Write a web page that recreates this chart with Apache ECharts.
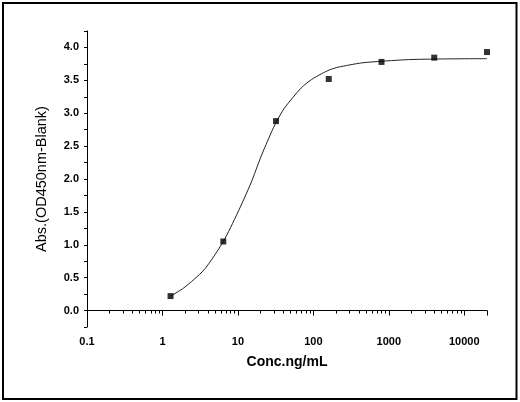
<!DOCTYPE html>
<html>
<head>
<meta charset="utf-8">
<script src="https://cdn.jsdelivr.net/npm/echarts@6/dist/echarts.min.js"></script>
<style>html,body{margin:0;padding:0;background:#fff}#c{width:520px;height:402px}</style>
</head>
<body>
<div id="c"></div>
<script>
// Measured points
const concentrations = [1.28, 6.4, 32, 160, 800, 4000, 20000];
const absorbance = [0.22, 1.05, 2.88, 3.52, 3.78, 3.845, 3.93];
// Fitted curve
const curveConc = [1.28, 1.92, 3.56, 6.4, 9.9, 14.9, 20.3, 27.5, 32, 41.5, 69, 94, 128, 165, 213, 437, 807, 1830, 5000, 20000];
const curveAbs  = [0.22, 0.345, 0.62, 1.05, 1.485, 1.94, 2.345, 2.70, 2.86, 3.08, 3.385, 3.51, 3.60, 3.66, 3.70, 3.765, 3.79, 3.815, 3.825, 3.83];
const yLabels = ['0.0','0.5','1.0','1.5','2.0','2.5','3.0','3.5','4.0'];
const xLabels = ['0.1','1','10','100','1000','10000'];
const xTitle = 'Conc.ng/mL';
const yTitle = 'Abs.(OD450nm-Blank)';

const chart = echarts.init(document.getElementById('c'), null, {renderer: 'canvas'});
const font = 'Liberation Sans, Arial, sans-serif';
chart.setOption({
  backgroundColor: '#fff',
  animation: false,
  grid: {left: 87, right: 33, top: 31, bottom: 75},
  graphic: [{
    type: 'rect', shape: {x: 3, y: 3, width: 513.5, height: 396},
    style: {fill: 'none', stroke: '#000', lineWidth: 2}, silent: true
  }],
  xAxis: {
    type: 'log', logBase: 10, min: 0.1, max: 20000,
    name: xTitle, nameLocation: 'middle', nameGap: 28,
    nameTextStyle: {fontFamily: font, fontSize: 14, fontWeight: 'bold', color: '#000'},
    axisLine: {show: true, lineStyle: {color: '#000', width: 1}},
    axisTick: {show: true, inside: false, length: 5, lineStyle: {color: '#000'}},
    minorTick: {show: true, splitNumber: 9, length: 3, lineStyle: {color: '#000'}},
    splitLine: {show: false},
    axisLabel: {
      fontFamily: font, fontSize: 11, fontWeight: 'bold', color: '#000', margin: 9,
      showMinLabel: true, showMaxLabel: true,
      formatter: function (v) {
        const l = Math.log10(v);
        if (Math.abs(l - Math.round(l)) > 1e-6) return '';
        const s = xLabels[Math.round(l) + 1];
        return s === undefined ? '' : s;
      }
    }
  },
  yAxis: {
    type: 'value', min: -0.25, max: 4.25, interval: 0.25,
    name: yTitle, nameLocation: 'middle', nameGap: 38, nameRotate: 90,
    nameTextStyle: {fontFamily: font, fontSize: 14.5, color: '#000'},
    axisLine: {show: true, lineStyle: {color: '#000', width: 1}},
    axisTick: {show: true, inside: false, length: 3, lineStyle: {color: '#000'}},
    splitLine: {show: false},
    axisLabel: {
      fontFamily: font, fontSize: 11, fontWeight: 'bold', color: '#000', margin: 8,
      showMinLabel: true, showMaxLabel: true,
      formatter: function (v) {
        const k = Math.round(v / 0.5);
        if (Math.abs(v - k * 0.5) > 1e-6) return '';
        const s = yLabels[k];
        return s === undefined ? '' : s;
      }
    }
  },
  series: [{
    type: 'line',
    data: curveConc.map((c, i) => [c, curveAbs[i]]),
    smooth: 0.25, showSymbol: false, symbol: 'none',
    lineStyle: {color: '#222', width: 1},
    z: 2
  }, {
    type: 'scatter',
    data: concentrations.map((c, i) => [c, absorbance[i]]),
    symbol: 'rect', symbolSize: 6,
    itemStyle: {color: '#000'},
    z: 3
  }]
});
</script>
</body>
</html>
